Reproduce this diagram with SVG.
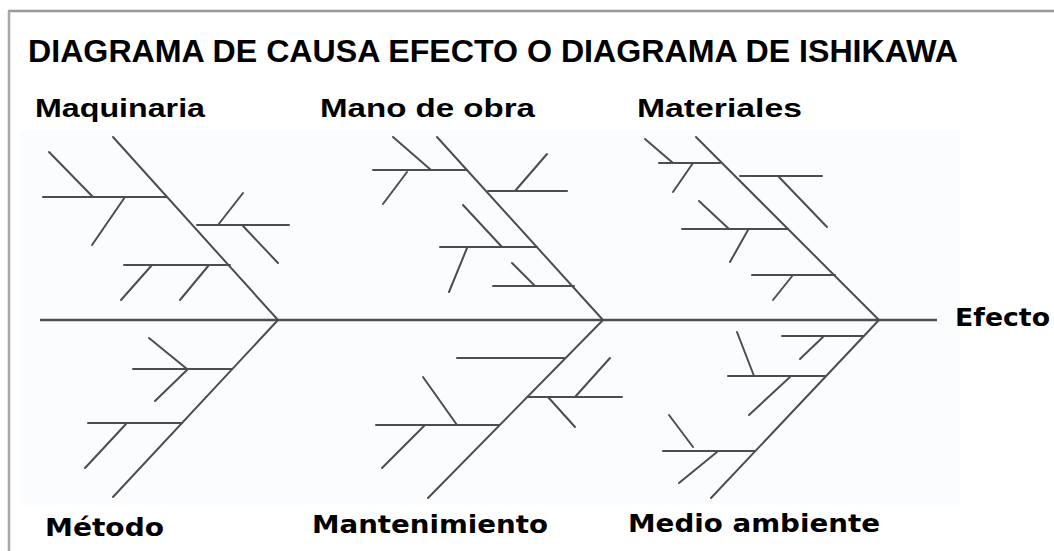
<svg xmlns="http://www.w3.org/2000/svg" width="1054" height="551" viewBox="0 0 1054 551">
  <style>
    .ln { stroke: #4d4d4d; stroke-width: 2; fill: none; stroke-linecap: round; }
    .spine { stroke: #4d4d4d; stroke-width: 2.6; fill: none; }
    .title { font-family: "Liberation Sans Narrow", "Liberation Sans", Arial, sans-serif; font-weight: bold; font-size: 32px; fill: #000; }
    .top { font-family: "Liberation Sans Narrow", "Liberation Sans", Arial, sans-serif; font-weight: bold; font-size: 25px; fill: #000; }
    .bot { font-family: "DejaVu Sans", Verdana, sans-serif; font-weight: bold; font-size: 25px; fill: #000; }
  </style>
  <rect x="0" y="0" width="1054" height="551" fill="#ffffff"/>
  <rect x="20" y="130" width="940" height="375" fill="#fbfcfd"/>
  <!-- frame -->
  <line x1="8" y1="11" x2="1054" y2="11" stroke="#9a9a9a" stroke-width="2.5"/>
  <line x1="9" y1="11" x2="9" y2="551" stroke="#a8a8a8" stroke-width="2.5"/>

  <text class="title" x="28" y="62" textLength="930" lengthAdjust="spacingAndGlyphs">DIAGRAMA DE CAUSA EFECTO O DIAGRAMA DE ISHIKAWA</text>

  <g id="connectors">
    <line class="spine" x1="40" y1="320" x2="937" y2="320"/>
    <line class="ln" x1="113" y1="137" x2="278" y2="320"/>
    <line class="ln" x1="437" y1="137" x2="603" y2="320"/>
    <line class="ln" x1="696" y1="137" x2="879" y2="320"/>
    <line class="ln" x1="278" y1="320" x2="113" y2="497"/>
    <line class="ln" x1="603" y1="320" x2="428" y2="498"/>
    <line class="ln" x1="879" y1="320" x2="711" y2="498"/>
  </g>

  <g id="maquinaria">
    <text class="top" x="35" y="117" textLength="170" lengthAdjust="spacingAndGlyphs">Maquinaria</text>
    <line class="ln" x1="43" y1="197" x2="167" y2="197"/>
    <line class="ln" x1="49" y1="152" x2="93" y2="197"/>
    <line class="ln" x1="125" y1="197" x2="92" y2="245"/>
    <line class="ln" x1="197" y1="225" x2="289" y2="225"/>
    <line class="ln" x1="218" y1="225" x2="243" y2="193"/>
    <line class="ln" x1="243" y1="226" x2="278" y2="263"/>
    <line class="ln" x1="124" y1="265" x2="230" y2="265"/>
    <line class="ln" x1="152" y1="265" x2="121" y2="300"/>
    <line class="ln" x1="209" y1="265" x2="180" y2="300"/>
  </g>

  <g id="mano-de-obra">
    <text class="top" x="320" y="117" textLength="215" lengthAdjust="spacingAndGlyphs">Mano de obra</text>
    <line class="ln" x1="373" y1="170" x2="467" y2="170"/>
    <line class="ln" x1="393" y1="137" x2="431" y2="170"/>
    <line class="ln" x1="407" y1="172" x2="383" y2="204"/>
    <line class="ln" x1="488" y1="191" x2="567" y2="191"/>
    <line class="ln" x1="515" y1="191" x2="547" y2="154"/>
    <line class="ln" x1="440" y1="247" x2="537" y2="247"/>
    <line class="ln" x1="463" y1="205" x2="502" y2="247"/>
    <line class="ln" x1="467" y1="248" x2="449" y2="292"/>
    <line class="ln" x1="493" y1="286" x2="574" y2="286"/>
    <line class="ln" x1="512" y1="263" x2="535" y2="286"/>
  </g>

  <g id="materiales">
    <text class="top" x="637" y="117" textLength="165" lengthAdjust="spacingAndGlyphs">Materiales</text>
    <line class="ln" x1="659" y1="163" x2="720" y2="163"/>
    <line class="ln" x1="645" y1="139" x2="673" y2="163"/>
    <line class="ln" x1="693" y1="163" x2="673" y2="192"/>
    <line class="ln" x1="740" y1="176" x2="822" y2="176"/>
    <line class="ln" x1="778" y1="176" x2="827" y2="227"/>
    <line class="ln" x1="682" y1="229" x2="788" y2="229"/>
    <line class="ln" x1="699" y1="201" x2="729" y2="229"/>
    <line class="ln" x1="748" y1="230" x2="730" y2="262"/>
    <line class="ln" x1="752" y1="275" x2="835" y2="275"/>
    <line class="ln" x1="793" y1="275" x2="773" y2="300"/>
  </g>

  <g id="metodo">
    <text class="bot" x="45" y="536" textLength="119" lengthAdjust="spacingAndGlyphs">Método</text>
    <line class="ln" x1="133" y1="369" x2="232" y2="369"/>
    <line class="ln" x1="149" y1="338" x2="187" y2="369"/>
    <line class="ln" x1="187" y1="370" x2="155" y2="401"/>
    <line class="ln" x1="88" y1="423" x2="182" y2="423"/>
    <line class="ln" x1="126" y1="424" x2="85" y2="468"/>
  </g>

  <g id="mantenimiento">
    <text class="bot" x="312" y="533" textLength="236" lengthAdjust="spacingAndGlyphs">Mantenimiento</text>
    <line class="ln" x1="457" y1="358" x2="564" y2="358"/>
    <line class="ln" x1="527" y1="397" x2="622" y2="397"/>
    <line class="ln" x1="575" y1="397" x2="610" y2="358"/>
    <line class="ln" x1="548" y1="397" x2="575" y2="427"/>
    <line class="ln" x1="376" y1="425" x2="499" y2="425"/>
    <line class="ln" x1="423" y1="377" x2="457" y2="425"/>
    <line class="ln" x1="425" y1="425" x2="382" y2="468"/>
  </g>

  <g id="medio-ambiente">
    <text class="bot" x="628" y="532" textLength="252" lengthAdjust="spacingAndGlyphs">Medio ambiente</text>
    <line class="ln" x1="782" y1="336" x2="863" y2="336"/>
    <line class="ln" x1="824" y1="336" x2="800" y2="359"/>
    <line class="ln" x1="728" y1="376" x2="825" y2="376"/>
    <line class="ln" x1="737" y1="332" x2="754" y2="376"/>
    <line class="ln" x1="790" y1="377" x2="749" y2="415"/>
    <line class="ln" x1="663" y1="451" x2="755" y2="451"/>
    <line class="ln" x1="669" y1="415" x2="693" y2="447"/>
    <line class="ln" x1="717" y1="452" x2="679" y2="483"/>
  </g>

  <g id="efecto">
    <text class="bot" x="955" y="326" textLength="95" lengthAdjust="spacingAndGlyphs">Efecto</text>
  </g>
</svg>
